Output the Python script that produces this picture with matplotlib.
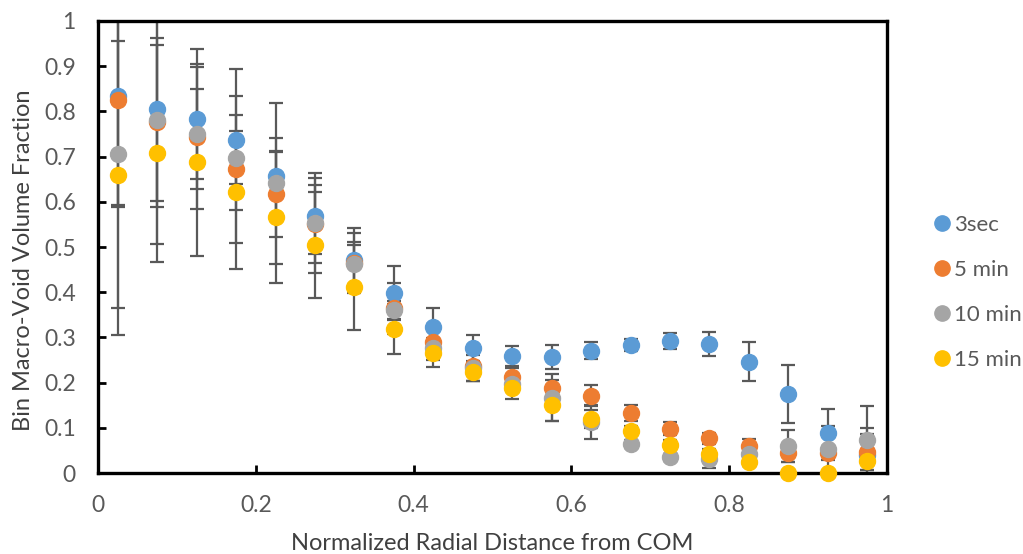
import matplotlib
matplotlib.use("Agg")
import matplotlib.pyplot as plt
from matplotlib.lines import Line2D

plt.rcParams['font.family'] = ['Lato', 'DejaVu Sans']

# Bin centres (normalized radial distance from centre of mass)
radial_bins = [0.025, 0.075, 0.125, 0.175, 0.225, 0.275, 0.325, 0.375, 0.425, 0.475,
               0.525, 0.575, 0.625, 0.675, 0.725, 0.775, 0.825, 0.875, 0.925, 0.975]

series_labels = ["3sec", "5 min", "10 min", "15 min"]

frac_3sec = [0.834, 0.806, 0.783, 0.737, 0.657, 0.568, 0.471, 0.398, 0.324, 0.276,
             0.258, 0.257, 0.271, 0.283, 0.292, 0.286, 0.246, 0.175, 0.088, 0.040]
err_3sec = [0.240, 0.217, 0.155, 0.156, 0.085, 0.084, 0.072, 0.060, 0.042, 0.029,
            0.022, 0.026, 0.018, 0.014, 0.017, 0.027, 0.043, 0.065, 0.053, 0.060]

frac_5min = [0.825, 0.777, 0.744, 0.672, 0.617, 0.551, 0.465, 0.364, 0.290, 0.237,
             0.213, 0.189, 0.171, 0.133, 0.098, 0.077, 0.060, 0.045, 0.044, 0.047]
err_5min = [0.236, 0.270, 0.160, 0.163, 0.094, 0.087, 0.065, 0.056, 0.040, 0.033,
            0.020, 0.017, 0.023, 0.017, 0.015, 0.012, 0.015, 0.020, 0.015, 0.040]

frac_10min = [0.706, 0.782, 0.750, 0.698, 0.641, 0.553, 0.462, 0.361, 0.276, 0.232,
              0.197, 0.166, 0.113, 0.064, 0.035, 0.032, 0.041, 0.060, 0.053, 0.074]
err_10min = [0.400, 0.180, 0.100, 0.058, 0.178, 0.110, 0.050, 0.020, 0.015, 0.028,
             0.015, 0.052, 0.037, 0.008, 0.008, 0.020, 0.012, 0.035, 0.050, 0.075]

frac_15min = [0.660, 0.707, 0.689, 0.622, 0.567, 0.504, 0.411, 0.319, 0.266, 0.224,
              0.189, 0.150, 0.119, 0.094, 0.063, 0.043, 0.025, 0.000, 0.000, 0.027]
err_15min = [0.295, 0.241, 0.210, 0.170, 0.146, 0.117, 0.094, 0.056, 0.032, 0.020,
             0.025, 0.036, 0.020, 0.010, 0.010, 0.010, 0.010, 0.000, 0.000, 0.020]

colors = ["#5B9BD5", "#ED7D31", "#A5A5A5", "#FFC000"]
err_color = "#595959"
text_color = "#404040"
tick_text_color = "#595959"

x_ticks = [0, 0.2, 0.4, 0.6, 0.8, 1]
x_tick_labels = ["0", "0.2", "0.4", "0.6", "0.8", "1"]
y_ticks = [0, 0.1, 0.2, 0.3, 0.4, 0.5, 0.6, 0.7, 0.8, 0.9, 1]
y_tick_labels = ["0", "0.1", "0.2", "0.3", "0.4", "0.5", "0.6", "0.7", "0.8", "0.9", "1"]

fig = plt.figure(figsize=(10.23, 5.54), dpi=100)
ax = fig.add_axes([0.0958, 0.1462, 0.7712, 0.8159])

all_vals = [frac_3sec, frac_5min, frac_10min, frac_15min]
all_errs = [err_3sec, err_5min, err_10min, err_15min]

# error bars underneath every marker
for vals, errs in zip(all_vals, all_errs):
    ax.errorbar(radial_bins, vals, yerr=errs, fmt="none", ecolor=err_color,
                elinewidth=1.6, capsize=5, capthick=1.6, zorder=2)

for vals, col, lab in zip(all_vals, colors, series_labels):
    ax.plot(radial_bins, vals, linestyle="none", marker="o", ms=11.5,
            markerfacecolor=col, markeredgecolor=col, label=lab,
            zorder=3, clip_on=False)

ax.set_xlim(0, 1)
ax.set_ylim(0, 1)
ax.set_xticks(x_ticks)
ax.set_xticklabels(x_tick_labels)
ax.set_yticks(y_ticks)
ax.set_yticklabels(y_tick_labels)
ax.tick_params(direction="in", length=6, width=2, labelsize=16.5, color="black",
               labelcolor=tick_text_color)
ax.tick_params(axis="y", pad=16)
ax.tick_params(axis="x", pad=16)
for sp in ax.spines.values():
    sp.set_linewidth(2.4)
    sp.set_color("black")

ax.set_xlabel("Normalized Radial Distance from COM", fontsize=17, labelpad=12,
              color=text_color)
ax.set_ylabel("Bin Macro-Void Volume Fraction", fontsize=17, labelpad=10,
              color=text_color)
ax.yaxis.set_label_coords(-0.081, 0.47)

handles = [Line2D([], [], linestyle="none", marker="o", ms=11,
                  markerfacecolor=c, markeredgecolor=c) for c in colors]
leg = fig.legend(handles, series_labels, loc="center left",
                 bbox_to_anchor=(0.8925, 0.472), frameon=False, fontsize=16,
                 handletextpad=0.15, labelspacing=1.12, handlelength=0.8)
for t in leg.get_texts():
    t.set_color(tick_text_color)

fig.savefig("out.png", dpi=100)
